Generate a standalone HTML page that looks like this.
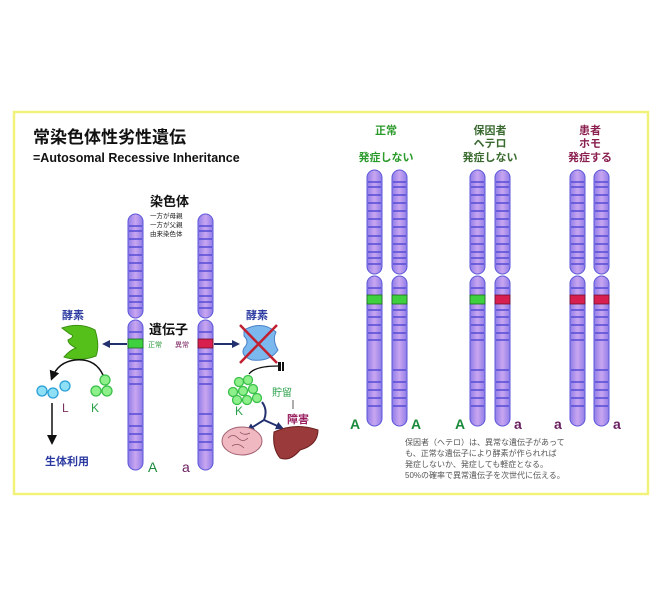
<!DOCTYPE html>
<html><head><meta charset="utf-8"><style>
html,body{margin:0;padding:0;background:#fff;}
svg{display:block;font-family:"Liberation Sans","Noto Sans CJK JP",sans-serif;}
</style></head><body>
<svg width="661" height="610" viewBox="0 0 661 610" xmlns="http://www.w3.org/2000/svg">
<defs>
<linearGradient id="cg" x1="0" x2="1" y1="0" y2="0">
<stop offset="0" stop-color="#8f7de8"/><stop offset="0.5" stop-color="#c9a6f0"/><stop offset="1" stop-color="#8f7de8"/>
</linearGradient>
<g id="chr">
<rect x="0" y="0" width="15" height="104" rx="7.5" fill="url(#cg)" stroke="#5a55d8" stroke-width="1"/>
<rect x="0" y="106" width="15" height="150" rx="7.5" fill="url(#cg)" stroke="#5a55d8" stroke-width="1"/>
<g stroke="#5b50d6" stroke-width="1.6">
<line x1="1" x2="14" y1="12" y2="12"/><line x1="1" x2="14" y1="17" y2="17"/><line x1="1" x2="14" y1="25" y2="25"/>
<line x1="1" x2="14" y1="33" y2="33"/><line x1="1" x2="14" y1="41" y2="41"/><line x1="1" x2="14" y1="49" y2="49"/>
<line x1="1" x2="14" y1="57" y2="57"/><line x1="1" x2="14" y1="66" y2="66"/><line x1="1" x2="14" y1="74" y2="74"/>
<line x1="1" x2="14" y1="82" y2="82"/><line x1="1" x2="14" y1="88" y2="88"/><line x1="1" x2="14" y1="94" y2="94"/>
<line x1="1" x2="14" y1="118" y2="118"/><line x1="1" x2="14" y1="140" y2="140"/><line x1="1" x2="14" y1="147" y2="147"/>
<line x1="1" x2="14" y1="155" y2="155"/><line x1="1" x2="14" y1="163" y2="163"/><line x1="1" x2="14" y1="170" y2="170"/>
<line x1="1" x2="14" y1="200" y2="200"/><line x1="1" x2="14" y1="212" y2="212"/><line x1="1" x2="14" y1="220" y2="220"/>
<line x1="1" x2="14" y1="228" y2="228"/><line x1="1" x2="14" y1="236" y2="236"/>
</g>
</g>
<rect id="gb" x="0" y="125" width="15" height="9" fill="#3fd03f" stroke="#1a6a1a" stroke-width="0.8"/>
<rect id="rb" x="0" y="125" width="15" height="9" fill="#d8204e" stroke="#701030" stroke-width="0.8"/>
<marker id="ah" markerWidth="8" markerHeight="8" refX="6" refY="4" orient="auto" markerUnits="userSpaceOnUse"><path d="M0,0 L8,4 L0,8 z" fill="#223070"/></marker>
<marker id="ak" markerWidth="10" markerHeight="10" refX="7" refY="5" orient="auto" markerUnits="userSpaceOnUse"><path d="M0,0 L10,5 L0,10 z" fill="#111"/></marker>
</defs>
<rect x="14" y="112" width="634" height="382" fill="#fff" stroke="#f2f27a" stroke-width="2.5"/>

<text x="33" y="143" font-size="17" font-weight="bold" fill="#111">常染色体性劣性遺伝</text>
<text x="33" y="162" font-size="12.5" font-weight="bold" fill="#111">=Autosomal Recessive Inheritance</text>

<!-- left chromosomes -->
<g transform="translate(128,214)"><use href="#chr"/><use href="#gb"/></g>
<g transform="translate(198,214)"><use href="#chr"/><use href="#rb"/></g>
<text x="150" y="206" font-size="13" font-weight="bold" fill="#111">染色体</text>
<text x="150" y="218" font-size="6.5" fill="#222">一方が母親</text>
<text x="150" y="227" font-size="6.5" fill="#222">一方が父親</text>
<text x="150" y="236" font-size="6.5" fill="#222">由来染色体</text>
<text x="149" y="334" font-size="13" font-weight="bold" fill="#111">遺伝子</text>
<text x="148" y="347" font-size="7" fill="#2a9a3a">正常</text>
<text x="175" y="347" font-size="7" fill="#7a2060">異常</text>
<text x="148" y="472" font-size="14" fill="#1a8a3a">A</text>
<text x="182" y="472" font-size="14" fill="#6a2060">a</text>

<!-- left enzyme -->
<text x="62" y="319" font-size="11" font-weight="bold" fill="#2a3aa0">酵素</text>
<path d="M62,328 Q80,322 95,330 Q100,345 96,356 Q80,362 64,357 Q70,350 76,348 Q68,344 68,340 Q76,336 70,334 Z" fill="#55c01a" stroke="#3a9010"/>
<line x1="127" y1="344" x2="104" y2="344" stroke="#223070" stroke-width="2" marker-end="url(#ah)"/>
<path d="M103,375 Q95,358 75,360 Q58,362 52,378" fill="none" stroke="#111" stroke-width="1.5" marker-end="url(#ak)"/>
<g fill="#8fdff5" stroke="#2aa0d8" stroke-width="1.3">
<circle cx="42" cy="391" r="5"/><circle cx="53" cy="393" r="5"/><circle cx="65" cy="386" r="5"/></g>
<g fill="#8ef08a" stroke="#3ac04a" stroke-width="1.3">
<circle cx="105" cy="380" r="5"/><circle cx="96" cy="391" r="5"/><circle cx="107" cy="391" r="5"/></g>
<text x="62" y="412" font-size="12" fill="#7a3060">L</text>
<text x="91" y="412" font-size="12" fill="#2aa04a">K</text>
<line x1="52" y1="403" x2="52" y2="442" stroke="#111" stroke-width="1.5" marker-end="url(#ak)"/>
<text x="45" y="465" font-size="11" font-weight="bold" fill="#2a3aa0">生体利用</text>

<!-- right enzyme -->
<text x="246" y="319" font-size="11" font-weight="bold" fill="#2a3aa0">酵素</text>
<path d="M244,330 Q262,320 276,332 Q272,340 278,350 Q270,362 252,360 Q240,356 244,348 Q250,342 244,336 Z" fill="#7ab8ee" stroke="#4a80c8"/>
<line x1="240" y1="325" x2="277" y2="363" stroke="#c02030" stroke-width="2.5"/>
<line x1="277" y1="325" x2="240" y2="363" stroke="#c02030" stroke-width="2.5"/>
<line x1="214" y1="344" x2="238" y2="344" stroke="#223070" stroke-width="2" marker-end="url(#ah)"/>
<path d="M249,374 Q255,366 278,366" fill="none" stroke="#111" stroke-width="1.3"/>
<rect x="278" y="362" width="3" height="9" fill="#111"/><rect x="282" y="362" width="2" height="9" fill="#111"/>
<g fill="#8ef08a" stroke="#3ac04a" stroke-width="1.3">
<circle cx="239" cy="382" r="4.5"/><circle cx="248" cy="380" r="4.5"/><circle cx="253" cy="389" r="4.5"/>
<circle cx="233" cy="392" r="4.5"/><circle cx="243" cy="391" r="4.5"/><circle cx="237" cy="400" r="4.5"/><circle cx="247" cy="400" r="4.5"/><circle cx="257" cy="398" r="4.5"/></g>
<text x="235" y="415" font-size="12" fill="#2aa04a">K</text>
<text x="272" y="396" font-size="10" fill="#2aa04a">貯留</text>
<line x1="293" y1="400" x2="293" y2="409" stroke="#333" stroke-width="0.8"/>
<text x="287" y="423" font-size="11" font-weight="bold" fill="#9a2060">障害</text>
<path d="M262,402 Q268,410 264,420 L248,430" fill="none" stroke="#223070" stroke-width="2" marker-end="url(#ah)"/>
<line x1="264" y1="420" x2="282" y2="428" stroke="#223070" stroke-width="2" marker-end="url(#ah)"/>
<ellipse cx="242" cy="441" rx="20" ry="14" fill="#f0b8c0" stroke="#a06070"/>
<path d="M228,438 q5,-5 10,0 q5,5 10,0 M232,446 q6,-4 12,2 M240,432 q4,4 10,1" fill="none" stroke="#905060" stroke-width="0.8"/>
<path d="M274,432 Q295,422 318,430 Q318,445 300,450 Q290,462 280,458 Q272,448 274,432 Z" fill="#9a3a3a" stroke="#6a2020"/>

<!-- right side -->
<g transform="translate(367,170)"><use href="#chr"/><use href="#gb"/></g>
<g transform="translate(392,170)"><use href="#chr"/><use href="#gb"/></g>
<g transform="translate(470,170)"><use href="#chr"/><use href="#gb"/></g>
<g transform="translate(495,170)"><use href="#chr"/><use href="#rb"/></g>
<g transform="translate(570,170)"><use href="#chr"/><use href="#rb"/></g>
<g transform="translate(594,170)"><use href="#chr"/><use href="#rb"/></g>

<g font-size="11" font-weight="bold" text-anchor="middle">
<text x="386" y="134" fill="#2a9a2a">正常</text>
<text x="386" y="161" fill="#2a9a2a">発症しない</text>
<text x="490" y="134" fill="#3a6a30">保因者</text>
<text x="490" y="147" fill="#3a6a30">ヘテロ</text>
<text x="490" y="161" fill="#3a6a30">発症しない</text>
<text x="590" y="134" fill="#8a2050">患者</text>
<text x="590" y="147" fill="#8a2050">ホモ</text>
<text x="590" y="161" fill="#8a2050">発症する</text>
</g>
<g font-size="14" font-weight="bold">
<text x="350" y="429" fill="#1a8a3a">A</text>
<text x="411" y="429" fill="#1a8a3a">A</text>
<text x="455" y="429" fill="#1a8a3a">A</text>
<text x="514" y="429" fill="#6a2060">a</text>
<text x="554" y="429" fill="#6a2060">a</text>
<text x="613" y="429" fill="#6a2060">a</text>
</g>
<g font-size="8" fill="#555">
<text x="405" y="445">保因者（ヘテロ）は、異常な遺伝子があって</text>
<text x="405" y="456">も、正常な遺伝子により酵素が作られれば</text>
<text x="405" y="467">発症しないか、発症しても軽症となる。</text>
<text x="405" y="478">50%の確率で異常遺伝子を次世代に伝える。</text>
</g>
</svg>
</body></html>
